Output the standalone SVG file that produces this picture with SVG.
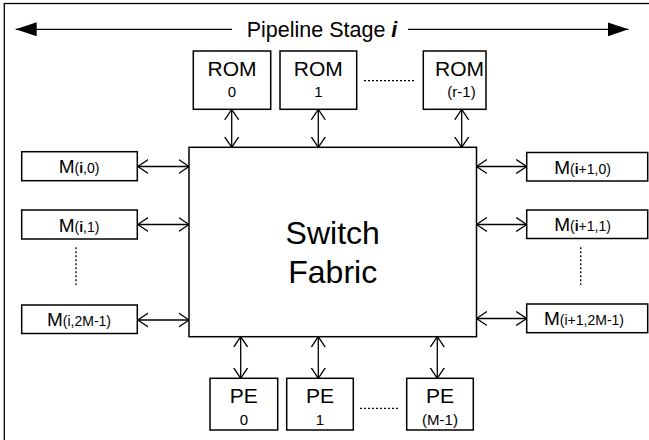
<svg xmlns="http://www.w3.org/2000/svg" width="649" height="440" viewBox="0 0 649 440">
<style>
text{font-family:"Liberation Sans",Arial,sans-serif;fill:#000}
.box{fill:#fff;stroke:#000;stroke-width:1.5}
.con{stroke:#000;stroke-width:1.3;fill:none}
.dot{stroke:#000;stroke-width:1.3;stroke-dasharray:2,2;fill:none}
.big{font-size:21px}
.sm{font-size:15px}
.ml{font-size:19px}
.ms{font-size:14px}
</style>
<defs>
<marker id="v" viewBox="0 -8 12 16" refX="10.5" refY="0" markerWidth="12" markerHeight="16" markerUnits="userSpaceOnUse" orient="auto-start-reverse">
<path d="M0,-7 L10.5,0 L0,7" fill="none" stroke="#000" stroke-width="1.3"/>
</marker>
<marker id="f" viewBox="0 -8 22 16" refX="21" refY="0" markerWidth="22" markerHeight="16" markerUnits="userSpaceOnUse" orient="auto-start-reverse">
<path d="M0,-7 L21,0 L0,7 z" fill="#000"/>
</marker>
</defs>
<rect x="4.3" y="3.5" width="700" height="500" fill="none" stroke="#000" stroke-width="1.3"/>
<g id="title">
<text x="322" y="37" font-size="21.5" text-anchor="middle">Pipeline Stage <tspan font-weight="bold" font-style="italic">i</tspan></text>
</g>
<g id="connectors">
<line class="con" x1="232" y1="29.3" x2="15.7" y2="29.3" marker-end="url(#f)"/>
<line class="con" x1="408" y1="29.3" x2="628.5" y2="29.3" marker-end="url(#f)"/>
<line class="con" x1="231.7" y1="109.3" x2="231.7" y2="147.3" marker-start="url(#v)" marker-end="url(#v)"/>
<line class="con" x1="318.3" y1="109.3" x2="318.3" y2="147.3" marker-start="url(#v)" marker-end="url(#v)"/>
<line class="con" x1="461.7" y1="109.3" x2="461.7" y2="147.3" marker-start="url(#v)" marker-end="url(#v)"/>
<line class="con" x1="137.8" y1="166.5" x2="189" y2="166.5" marker-start="url(#v)" marker-end="url(#v)"/>
<line class="con" x1="137.8" y1="224.5" x2="189" y2="224.5" marker-start="url(#v)" marker-end="url(#v)"/>
<line class="con" x1="137.8" y1="320" x2="189" y2="320" marker-start="url(#v)" marker-end="url(#v)"/>
<line class="con" x1="476.5" y1="166.5" x2="526.7" y2="166.5" marker-start="url(#v)" marker-end="url(#v)"/>
<line class="con" x1="476.5" y1="224.5" x2="526.7" y2="224.5" marker-start="url(#v)" marker-end="url(#v)"/>
<line class="con" x1="476.5" y1="318.5" x2="526.7" y2="318.5" marker-start="url(#v)" marker-end="url(#v)"/>
<line class="con" x1="240.7" y1="336.7" x2="240.7" y2="378.3" marker-start="url(#v)" marker-end="url(#v)"/>
<line class="con" x1="318.3" y1="336.7" x2="318.3" y2="378.3" marker-start="url(#v)" marker-end="url(#v)"/>
<line class="con" x1="437.3" y1="336.7" x2="437.3" y2="378.3" marker-start="url(#v)" marker-end="url(#v)"/>
<line class="dot" x1="364" y1="80.7" x2="414" y2="80.7"/>
<line class="dot" x1="360" y1="408.3" x2="398.3" y2="408.3"/>
<line class="dot" x1="76" y1="247.3" x2="76" y2="285"/>
<line class="dot" x1="580.7" y1="247.3" x2="580.7" y2="285"/>
</g>
<g id="fabric">
<rect class="box" x="189" y="147.3" width="287.5" height="189.4"/>
<text x="332.7" y="244" font-size="32" text-anchor="middle">Switch</text>
<text x="332.7" y="283" font-size="32" text-anchor="middle">Fabric</text>
</g>
<g id="rom0">
<rect class="box" x="193.3" y="51" width="77.4" height="58.3"/>
<text class="big" x="232" y="76" text-anchor="middle">ROM</text>
<text class="sm" x="232" y="97.3" text-anchor="middle">0</text>
</g>
<g id="rom1">
<rect class="box" x="280" y="51" width="76.7" height="58.3"/>
<text class="big" x="318.3" y="76" text-anchor="middle">ROM</text>
<text class="sm" x="318.3" y="97.3" text-anchor="middle">1</text>
</g>
<g id="romr">
<rect class="box" x="423.3" y="51" width="62.7" height="58.3"/>
<text class="big" x="459.5" y="76" text-anchor="middle">ROM</text>
<text class="sm" x="461.5" y="97.3" text-anchor="middle">(r-1)</text>
</g>
<g id="m_i_0">
<rect class="box" x="21.7" y="151.7" width="115.6" height="29"/>
<text x="79" y="173" text-anchor="middle"><tspan class="ml">M</tspan><tspan class="ms">(<tspan font-weight="bold">i</tspan>,0)</tspan></text>
</g>
<g id="m_i_1">
<rect class="box" x="21.7" y="210" width="115.6" height="29"/>
<text x="79" y="231.5" text-anchor="middle"><tspan class="ml">M</tspan><tspan class="ms">(<tspan font-weight="bold">i</tspan>,1)</tspan></text>
</g>
<g id="m_i_2m1">
<rect class="box" x="21.7" y="305" width="115.6" height="28.5"/>
<text x="79" y="326.3" text-anchor="middle"><tspan class="ml">M</tspan><tspan class="ms">(i,2M-1)</tspan></text>
</g>
<g id="m_i1_0">
<rect class="box" x="526.7" y="152.5" width="121" height="28.5"/>
<text x="582.5" y="173.5" text-anchor="middle"><tspan class="ml">M</tspan><tspan class="ms">(<tspan font-weight="bold">i</tspan>+1,0)</tspan></text>
</g>
<g id="m_i1_1">
<rect class="box" x="526.7" y="210" width="121" height="28.5"/>
<text x="582.5" y="231.3" text-anchor="middle"><tspan class="ml">M</tspan><tspan class="ms">(<tspan font-weight="bold">i</tspan>+1,1)</tspan></text>
</g>
<g id="m_i1_2m1">
<rect class="box" x="526.7" y="304" width="121" height="28.7"/>
<text x="584" y="325.3" text-anchor="middle"><tspan class="ml">M</tspan><tspan class="ms">(i+1,2M-1)</tspan></text>
</g>
<g id="pe0">
<rect class="box" x="210" y="378.3" width="67.7" height="51.7"/>
<text class="big" x="243.8" y="403" text-anchor="middle">PE</text>
<text class="sm" x="243.8" y="425" text-anchor="middle">0</text>
</g>
<g id="pe1">
<rect class="box" x="286.7" y="378.3" width="66.6" height="51.7"/>
<text class="big" x="320" y="403" text-anchor="middle">PE</text>
<text class="sm" x="320" y="425" text-anchor="middle">1</text>
</g>
<g id="pem1">
<rect class="box" x="406.7" y="378.3" width="66.6" height="51.7"/>
<text class="big" x="440" y="403" text-anchor="middle">PE</text>
<text class="sm" x="440" y="425" text-anchor="middle">(M-1)</text>
</g>
</svg>
